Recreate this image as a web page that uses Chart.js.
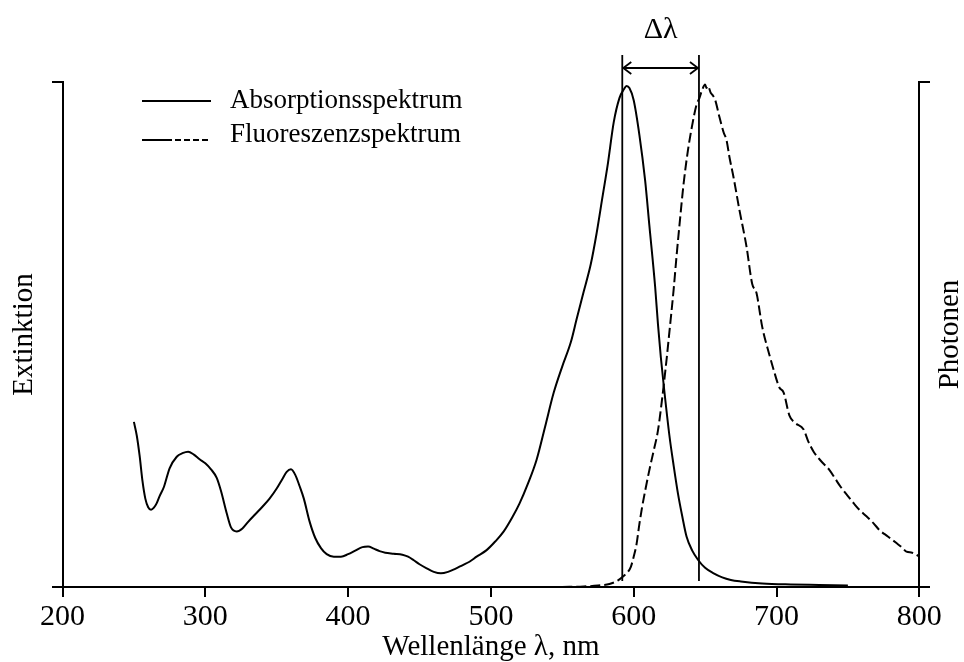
<!DOCTYPE html>
<html><head><meta charset="utf-8">
<script src="https://cdn.jsdelivr.net/npm/chart.js@4.4.0/dist/chart.umd.min.js"></script>
<style>html,body{margin:0;padding:0;background:#fff;}#wrap{width:964px;height:662px;}</style>
</head><body><div id="wrap"><canvas id="c" width="964" height="662"></canvas></div>
<script>
// ---- data ----
const absWavelength = [250,252,254,256,258,260,262,264,266,268,271,275,280,284,288,292,296,300,304,308,311,315,318,322,326,330,335,340,345,350,354,357,360,363,366,369,373,377,381,385,390,395,400,405,410,414,418,422,426,432,438,442,446,450,455,460,465,470,475,480,485,490,497,503,509,515,520,526,532,538,544,550,556,560,565,570,574,578,582,586,590,593,595,597,600,604,608,611,615,617,619,621,625,628,631,634,637,641,645,650,656,662,668,675,690,710,730,750];
const absValues = [0.327,0.300,0.260,0.210,0.175,0.158,0.153,0.157,0.166,0.180,0.198,0.235,0.258,0.265,0.268,0.262,0.253,0.245,0.233,0.216,0.190,0.146,0.118,0.110,0.116,0.129,0.144,0.159,0.175,0.195,0.214,0.228,0.233,0.222,0.200,0.175,0.130,0.097,0.077,0.065,0.060,0.060,0.065,0.072,0.079,0.080,0.076,0.071,0.068,0.066,0.064,0.060,0.053,0.045,0.037,0.030,0.027,0.030,0.036,0.043,0.050,0.060,0.073,0.090,0.110,0.138,0.165,0.205,0.252,0.318,0.385,0.437,0.485,0.530,0.585,0.640,0.700,0.770,0.840,0.920,0.968,0.985,0.992,0.988,0.964,0.895,0.805,0.715,0.595,0.520,0.455,0.400,0.300,0.240,0.185,0.140,0.100,0.072,0.054,0.038,0.027,0.019,0.014,0.011,0.007,0.005,0.004,0.003];
const fluWavelength = [550,565,575,583,589,593,596,598,600,602,604,606,608,611,614,617,620,623,625,628,630,632,635,638,641,644,646,648,650,651,652,654,655,657,660,663,665,667,670,674,679,683,686,690,695,698,702,705,709,713,719,722,726,731,737,741,745,750,754,758,763,768,772,778,784,788,791,795,798,800];
const fluValues = [0.000,0.001,0.003,0.006,0.013,0.022,0.030,0.040,0.060,0.085,0.125,0.160,0.190,0.232,0.270,0.310,0.375,0.450,0.505,0.590,0.655,0.715,0.800,0.865,0.915,0.955,0.968,0.985,0.995,0.988,0.992,0.978,0.975,0.965,0.931,0.900,0.885,0.852,0.810,0.747,0.674,0.600,0.582,0.515,0.460,0.430,0.395,0.385,0.340,0.325,0.312,0.290,0.268,0.250,0.232,0.215,0.198,0.180,0.166,0.153,0.140,0.126,0.113,0.100,0.087,0.078,0.070,0.068,0.064,0.060];
const xTicks = [200,300,400,500,600,700,800];
const seriesNames = ['Absorptionsspektrum','Fluoreszenzspektrum'];
const stokesMarkers = [592, 645.7];
const xTitle = 'Wellenlänge λ, nm';
const yLeftTitle = 'Extinktion';
const yRightTitle = 'Photonen';
const deltaLabel = 'Δλ';

const FONT = "'Liberation Serif','Times New Roman',serif";

const overlay = {
  id: 'overlay',
  afterDraw(chart) {
    const ctx = chart.ctx, xs = chart.scales.x;
    const {left, right, top, bottom} = chart.chartArea;
    const line = (x1,y1,x2,y2) => {ctx.beginPath();ctx.moveTo(x1,y1);ctx.lineTo(x2,y2);ctx.stroke();};
    ctx.save();
    ctx.strokeStyle = '#000'; ctx.fillStyle = '#000';
    ctx.lineWidth = 2; ctx.setLineDash([]);
    line(52, bottom, left, bottom); line(right, bottom, 930, bottom);
    line(52, top, left + 1, top); line(right - 1, top, 930, top);
    // Stokes shift markers
    ctx.lineWidth = 1.8;
    const px = stokesMarkers.map(v => xs.getPixelForValue(v));
    px.forEach(p => line(p, 55, p, 581));
    const ay = 68;
    line(px[0], ay, px[1], ay);
    ctx.beginPath(); ctx.moveTo(px[0]+9, ay-6); ctx.lineTo(px[0]+1, ay); ctx.lineTo(px[0]+9, ay+6); ctx.stroke();
    ctx.beginPath(); ctx.moveTo(px[1]-9, ay-6); ctx.lineTo(px[1]-1, ay); ctx.lineTo(px[1]-9, ay+6); ctx.stroke();
    ctx.font = '30px ' + FONT; ctx.textAlign = 'center'; ctx.textBaseline = 'alphabetic';
    ctx.fillText(deltaLabel, (px[0]+px[1])/2, 38);
    // legend
    ctx.lineWidth = 2;
    line(142, 101, 211, 101);
    line(142, 140, 172, 140);
    ctx.setLineDash([6,3]); line(175, 140, 211, 140); ctx.setLineDash([]);
    ctx.font = '27px ' + FONT; ctx.textAlign = 'left'; ctx.textBaseline = 'alphabetic';
    ctx.fillText(seriesNames[0], 230, 108);
    ctx.fillText(seriesNames[1], 230, 142);
    // right title
    ctx.font = '29px ' + FONT; ctx.textAlign = 'center'; ctx.textBaseline = 'middle';
    ctx.translate(950, (top + bottom)/2); ctx.rotate(-Math.PI/2);
    ctx.fillText(yRightTitle, 0, 0);
    ctx.restore();
  }
};

new Chart(document.getElementById('c'), {
  type: 'line',
  data: {
    datasets: [
      { label: seriesNames[0], data: absWavelength.map((x,i)=>({x, y: absValues[i]})), yAxisID: 'y',
        borderColor: '#000', borderWidth: 2, pointRadius: 0, cubicInterpolationMode: 'monotone', fill: false },
      { label: seriesNames[1], data: fluWavelength.map((x,i)=>({x, y: fluValues[i]})), yAxisID: 'y2',
        borderColor: '#000', borderWidth: 2, borderDash: [10,4], pointRadius: 0, cubicInterpolationMode: 'monotone', fill: false }
    ]
  },
  options: {
    responsive: false, devicePixelRatio: 1, animation: false,
    layout: { padding: { top: 82, left: 0, right: 0, bottom: 0 } },
    plugins: { legend: { display: false }, tooltip: { enabled: false } },
    scales: {
      x: {
        type: 'linear', min: 200, max: 800,
        afterBuildTicks: s => { s.ticks = xTicks.map(v => ({value: v})); },
        afterFit: s => { s.height = 75; },
        ticks: { font: { family: FONT, size: 30 }, color: '#000', padding: 2, maxRotation: 0, autoSkip: false },
        grid: { drawOnChartArea: false, drawTicks: true, tickLength: 10, color: '#000', lineWidth: 2 },
        border: { display: true, color: '#000', width: 2 },
        title: { display: true, text: xTitle, color: '#000', font: { family: FONT, size: 29, lineHeight: 1 }, padding: { top: 0, bottom: 0 } }
      },
      y: {
        position: 'left', min: 0, max: 1,
        afterFit: s => { s.width = 62.5; },
        ticks: { display: false },
        grid: { display: false, drawTicks: false },
        border: { display: true, color: '#000', width: 2 },
        title: { display: true, text: yLeftTitle, color: '#000', font: { family: FONT, size: 29, lineHeight: 1 }, padding: { top: 9.5, bottom: 0 } }
      },
      y2: {
        position: 'right', min: 0, max: 1,
        afterFit: s => { s.width = 44.7; },
        ticks: { display: false },
        grid: { display: false, drawTicks: false },
        border: { display: true, color: '#000', width: 2 }
      }
    }
  },
  plugins: [overlay]
});
</script>
</body></html>
